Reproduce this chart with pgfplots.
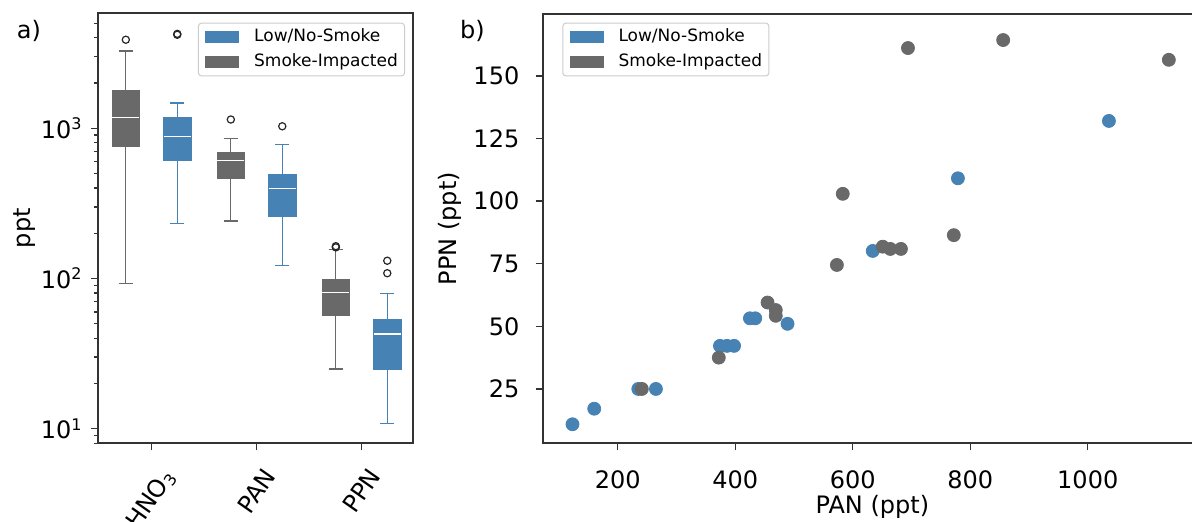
\documentclass[border=0pt]{standalone}
\usepackage{fontspec}
\setmainfont{DejaVu Sans}
\usepackage{pgfplots}
\pgfplotsset{compat=1.18}
\usepgfplotslibrary{statistics}
\definecolor{lowc}{RGB}{70,130,180}
\definecolor{smk}{RGB}{105,105,105}
\definecolor{spine}{RGB}{51,51,51}
\pgfplotsset{
  common/.style={
    scale only axis,
    anchor=south west,
    axis line style={spine, line width=0.8pt},
    tick style={spine, line width=0.7pt},
    tick align=outside,
    tick pos=left,
    major tick length=3.5pt,
    minor tick length=2pt,
    tick label style={font=\fontsize{12}{14}\selectfont, inner sep=0pt},
    /pgf/number format/assume math mode=true,
    /pgf/number format/1000 sep={},
    legend image code/.code={\fill[##1, draw=none, sharp corners] (0pt,-3pt) rectangle (17pt,3pt);},
    legend cell align=left,
    legend style={font=\fontsize{8.5}{10}\selectfont, draw=black!20, line width=0.5pt,
      rounded corners=1.5pt, fill=white, inner xsep=3.35pt, inner ysep=3pt,
      row sep=4.35pt,
      nodes={inner sep=0pt, text height=6.4pt, text depth=1.6pt},
      /tikz/every odd column/.append style={column sep=7.5pt}},
  },
}
\begin{document}
\begin{tikzpicture}
\begin{axis}[common,
  at={(49pt,39.35pt)}, width=157.5pt, height=215pt,
  ymin=0.903, ymax=3.765, xmin=-0.51, xmax=2.49,
  xtick={0,1,2},
  xticklabels={{\rotatebox{55}{HNO\textsubscript{3}}},{\rotatebox{55}{PAN}},{\rotatebox{55}{PPN}}},
  xticklabel shift=7.8pt,
  ytick={1,2,3},
  yticklabels={{10\textsuperscript{1}},{10\textsuperscript{2}},{10\textsuperscript{3}}},
  minor ytick={0.903,0.954,1.301,1.477,1.602,1.699,1.778,1.845,1.903,1.954,2.301,2.477,2.602,2.699,2.778,2.845,2.903,2.954,3.301,3.477,3.602,3.699},
  yticklabel shift=4pt,
  ylabel={ppt},
  every axis y label/.style={at={(axis description cs:-0.2317,0.5)}, rotate=90, anchor=center, font=\fontsize{12}{14}\selectfont},
  legend style={at={(axis description cs:1,1)}, anchor=north east, xshift=-4pt, yshift=-4.7pt},
  boxplot/draw direction=y,
  boxplot/box extend=0.26,
  boxplot/whisker extend=0.137,
  boxplot/every median/.style={draw=white, line width=0.7pt},
]
\addlegendimage{fill=lowc}\addlegendentry{Low/No-Smoke}
\addlegendimage{fill=smk}\addlegendentry{Smoke-Impacted}
% values are log10(ppt)
% HNO3
\addplot[forget plot, fill=smk, draw=smk, line width=0.6pt, mark=o, mark options={draw=black!85, fill=none, line width=0.6pt, scale=0.9},
  boxplot prepared={draw position=-0.245, lower whisker=1.968, lower quartile=2.880, median=3.071, upper quartile=3.2525, upper whisker=3.514}]
  table[row sep=\\, y index=0] {data\\ 3.589\\};
\addplot[forget plot, fill=lowc, draw=lowc, line width=0.6pt, mark=o, mark options={draw=black!85, fill=none, line width=0.6pt, scale=0.9},
  boxplot prepared={draw position=0.245, lower whisker=2.364, lower quartile=2.785, median=2.945, upper quartile=3.073, upper whisker=3.168}]
  table[row sep=\\, y index=0] {data\\ 3.622\\ 3.628\\};
% PAN
\addplot[forget plot, fill=smk, draw=smk, line width=0.6pt, mark=o, mark options={draw=black!85, fill=none, line width=0.6pt, scale=0.9},
  boxplot prepared={draw position=0.755, lower whisker=2.382, lower quartile=2.663, median=2.785, upper quartile=2.841, upper whisker=2.932}]
  table[row sep=\\, y index=0] {data\\ 3.058\\};
\addplot[forget plot, fill=lowc, draw=lowc, line width=0.6pt, mark=o, mark options={draw=black!85, fill=none, line width=0.6pt, scale=0.9},
  boxplot prepared={draw position=1.245, lower whisker=2.088, lower quartile=2.415, median=2.599, upper quartile=2.692, upper whisker=2.892}]
  table[row sep=\\, y index=0] {data\\ 3.013\\};
% PPN
\addplot[forget plot, fill=smk, draw=smk, line width=0.6pt, mark=o, mark options={draw=black!85, fill=none, line width=0.6pt, scale=0.9},
  boxplot prepared={draw position=1.755, lower whisker=1.397, lower quartile=1.755, median=1.908, upper quartile=1.995, upper whisker=2.194}]
  table[row sep=\\, y index=0] {data\\ 2.207\\ 2.215\\};
\addplot[forget plot, fill=lowc, draw=lowc, line width=0.6pt, mark=o, mark options={draw=black!85, fill=none, line width=0.6pt, scale=0.9},
  boxplot prepared={draw position=2.245, lower whisker=1.035, lower quartile=1.394, median=1.631, upper quartile=1.729, upper whisker=1.899}]
  table[row sep=\\, y index=0] {data\\ 2.035\\ 2.118\\};
\end{axis}

\begin{axis}[common,
  at={(271.35pt,39.35pt)}, width=327.05pt, height=214.65pt,
  xmin=72.3, xmax=1185.6, ymin=3.3, ymax=174.7,
  xtick={200,400,600,800,1000}, ytick={25,50,75,100,125,150},
  xticklabel shift=9.85pt, yticklabel shift=8pt,
  xlabel={PAN (ppt)}, ylabel={PPN (ppt)},
  every axis x label/.style={at={(axis description cs:0.504,-0.147)}, anchor=center, font=\fontsize{12}{14}\selectfont},
  every axis y label/.style={at={(axis description cs:-0.1417,0.5)}, rotate=90, anchor=center, font=\fontsize{12}{14}\selectfont},
  legend style={at={(axis description cs:0,1)}, anchor=north west, xshift=9.8pt, yshift=-4.35pt},
]
\addlegendimage{fill=lowc}\addlegendentry{Low/No-Smoke}
\addlegendimage{fill=smk}\addlegendentry{Smoke-Impacted}
\addplot[forget plot, only marks, mark=*, mark size=3.25pt, color=lowc, mark options={draw=none, fill=lowc}]
coordinates {(123,10.9) (160,17.1) (235,25) (265,25) (374,42.2) (386,42.2) (398,42.2) (425,53.2) (434,53.2) (489,51) (634,80.1) (779,109.1) (1036,132)};
\addplot[forget plot, only marks, mark=*, mark size=3.25pt, color=smk, mark options={draw=none, fill=smk}]
coordinates {(241,25) (372,37.5) (455,59.5) (469,56.5) (469,54.2) (573,74.5) (583,102.9) (651,81.8) (664,80.9) (682,80.9) (694,161.1) (772,86.4) (856,164.3) (1138,156.4)};
\end{axis}

\node[font=\fontsize{12}{14}\selectfont, anchor=center] at (14.5pt,245.5pt) {a)};
\node[font=\fontsize{12}{14}\selectfont, anchor=center] at (236.25pt,245.5pt) {b)};
\pgfresetboundingbox
\path[use as bounding box] (0pt,0pt) rectangle (596pt,261pt);
\end{tikzpicture}
\end{document}
